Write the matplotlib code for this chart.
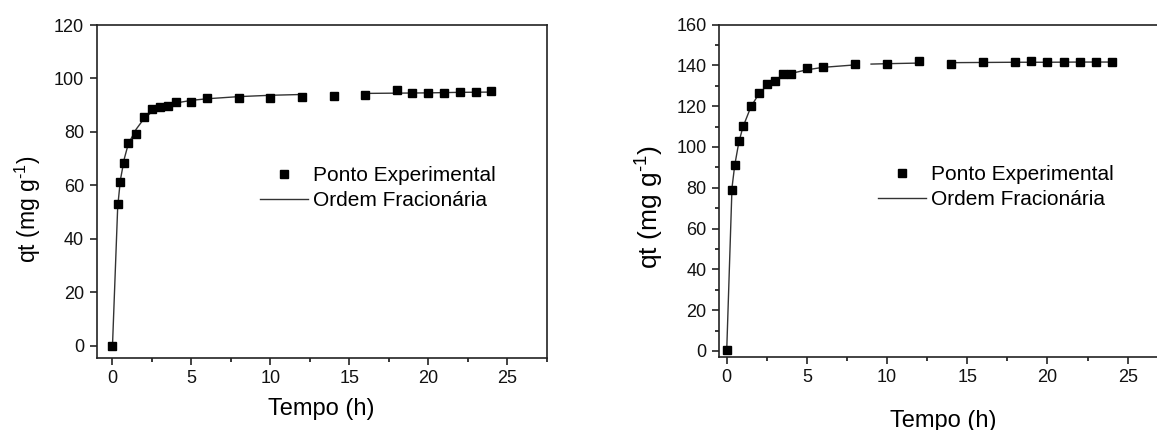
import numpy as np
import matplotlib.pyplot as plt
from matplotlib.ticker import MultipleLocator

plt.rcParams['font.family'] = ['Liberation Sans', 'DejaVu Sans']
plt.rcParams['mathtext.fontset'] = 'custom'
plt.rcParams['mathtext.rm'] = 'Liberation Sans'

# adsorption kinetics, sample A
t_a = [0, 0.33, 0.5, 0.75, 1, 1.5, 2, 2.5, 3, 3.5, 4, 5, 6, 8, 10, 12, 14,
       16, 18, 19, 20, 21, 22, 23, 24]
qt_a = [0, 53.2, 61.1, 68.3, 75.9, 79.3, 85.6, 88.6, 89.3, 89.6, 91.3, 91.2,
        92.7, 92.5, 92.6, 93.2, 93.6, 93.9, 95.7, 94.4, 94.7, 94.7, 95.0,
        95.0, 95.3]
# fractional-order fit, sample A (nan = break in the curve)
fit_t_a = [0, 0.33, 0.5, 0.75, 1, 1.5, 2, 2.5, 3, 3.5, 4, 5, 6, 8, 10, 12,
           np.nan, 16, 18, 20, 22, 24]
fit_q_a = [0, 52.0, 62.0, 70.0, 75.5, 81.0, 85.0, 87.5, 89.0, 90.0, 90.8,
           91.8, 92.4, 93.2, 93.7, 94.0, np.nan, 94.4, 94.5, 94.6, 94.8, 94.9]

# adsorption kinetics, sample B
t_b = [0, 0.33, 0.5, 0.75, 1, 1.5, 2, 2.5, 3, 3.5, 4, 5, 6, 8, 10, 12, 14,
       16, 18, 19, 20, 21, 22, 23, 24]
qt_b = [0.5, 79.1, 91.1, 102.7, 110.2, 120.2, 126.4, 130.7, 132.3, 135.6,
        135.6, 138.5, 139.3, 140.5, 140.8, 142.0, 140.8, 141.5, 141.6, 142.1,
        141.5, 141.5, 141.5, 141.5, 141.5]
fit_t_b = [0, 0.33, 0.5, 0.75, 1, 1.5, 2, 2.5, 3, 3.5, 4, 5, 6, 8, np.nan,
           9, 10, 12, np.nan, 14, 16, 18, 20, 22, 24]
fit_q_b = [0, 80.0, 91.0, 102.0, 109.5, 119.5, 126.0, 130.0, 132.8, 134.8,
           136.0, 137.8, 139.0, 140.2, np.nan, 140.6, 140.8, 141.1, np.nan,
           141.3, 141.4, 141.5, 141.5, 141.6, 141.6]

YLABEL = r'qt (mg g$^{\mathregular{\text{-}1}}$)'

W, H = 1157, 430
fig = plt.figure(figsize=(W / 100, H / 100), dpi=100)


def px_axes(x0, y0, x1, y1):
    return fig.add_axes([x0 / W, 1 - y1 / H, (x1 - x0) / W, (y1 - y0) / H])


def style(ax, tick_fs, ymajor, yminor=None):
    ax.xaxis.set_major_locator(MultipleLocator(5))
    ax.xaxis.set_minor_locator(MultipleLocator(2.5))
    ax.yaxis.set_major_locator(MultipleLocator(ymajor))
    if yminor:
        ax.yaxis.set_minor_locator(MultipleLocator(yminor))
    ax.tick_params(which='major', direction='out', length=5, width=1.1,
                   labelsize=tick_fs, colors='#111111', pad=4)
    ax.tick_params(which='minor', direction='out', length=3, width=1.1)
    for s in ax.spines.values():
        s.set_linewidth(1.2)
        s.set_color('#222222')


def draw(ax, t, q, ft, fq):
    ax.plot(ft, fq, color='#333333', lw=1.0, label='Ordem Fracionária')
    ax.plot(t, q, 's', color='black', ms=5.2, ls='none',
            label='Ponto Experimental')


# left panel
ax1 = px_axes(96.7, 25, 546.7, 357.7)
draw(ax1, t_a, qt_a, fit_t_a, fit_q_a)
ax1.set_xlim(-1, 27.5)
ax1.set_ylim(-4.5, 120)
style(ax1, 13, 20)
ax1.set_xlabel('Tempo (h)', fontsize=17, labelpad=8)
ax1.set_ylabel(YLABEL, fontsize=16.5, labelpad=8)
ax1.yaxis.label.set_y(0.445)

# right panel
ax2 = px_axes(719, 24.5, 1167.8, 356.7)
draw(ax2, t_b, qt_b, fit_t_b, fit_q_b)
ax2.set_xlim(-0.48, 27.5)
ax2.set_ylim(-2.8, 160)
style(ax2, 13, 20, 10)
ax2.set_xlabel('Tempo (h)', fontsize=17, labelpad=17)
ax2.set_ylabel(YLABEL, fontsize=19, labelpad=8)
ax2.yaxis.label.set_y(0.45)

for ax, anchor in ((ax1, (260 / W, 1 - 166 / H)), (ax2, (878 / W, 1 - 165 / H))):
    h, l = ax.get_legend_handles_labels()
    ax.legend(h[::-1], l[::-1], loc='upper left', bbox_to_anchor=anchor,
              bbox_transform=fig.transFigure, frameon=False, fontsize=15,
              borderpad=0, borderaxespad=0, handlelength=2.3,
              handletextpad=0.25, labelspacing=0.3)

fig.savefig('out.png', dpi=100, facecolor='white')
